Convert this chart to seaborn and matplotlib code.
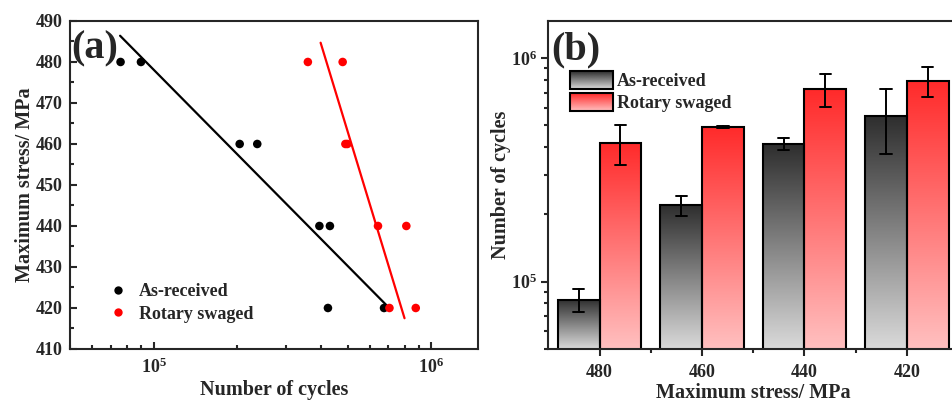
import numpy as np
import pandas as pd
import matplotlib
matplotlib.use("Agg")
import matplotlib.pyplot as plt
import seaborn as sns
from matplotlib.colors import LinearSegmentedColormap
from matplotlib.legend_handler import HandlerBase
from matplotlib.image import BboxImage
from matplotlib.transforms import Bbox, TransformedBbox
from matplotlib.patches import Rectangle, Patch
from matplotlib.lines import Line2D
from matplotlib.ticker import LogLocator, FuncFormatter, MultipleLocator, NullFormatter

# ---- fatigue data: two specimens per stress level ----
stress = [480, 480, 460, 460, 440, 440, 420, 420]
cycles_as_received = [7.6e4, 9.0e4, 2.04e5, 2.36e5, 3.95e5, 4.31e5, 4.24e5, 6.75e5]
cycles_swaged = [3.59e5, 4.79e5, 4.90e5, 4.98e5, 6.42e5, 8.12e5, 7.06e5, 8.78e5]

# ---- S-N fit lines (end points) ----
fit_as_received_N = [7.57e4, 6.93e5]
fit_as_received_S = [486.4, 420.5]
fit_swaged_N = [3.99e5, 8.0e5]
fit_swaged_S = [484.7, 417.5]

conditions = ["As-received", "Rotary swaged"]
stress_order = [480, 460, 440, 420]

df = pd.DataFrame({
    "stress": stress * 2,
    "cycles": cycles_as_received + cycles_swaged,
    "condition": [conditions[0]] * len(stress) + [conditions[1]] * len(stress),
})
fits = pd.DataFrame({
    "cycles": fit_as_received_N + fit_swaged_N,
    "stress": fit_as_received_S + fit_swaged_S,
    "condition": [conditions[0]] * 2 + [conditions[1]] * 2,
})

sns.set_style("ticks")
plt.rcParams["font.family"] = ["Liberation Serif", "DejaVu Serif"]
plt.rcParams["font.weight"] = "bold"
plt.rcParams["axes.labelweight"] = "bold"
plt.rcParams["mathtext.fontset"] = "custom"
plt.rcParams["mathtext.rm"] = "Liberation Serif:bold"
plt.rcParams["mathtext.it"] = "Liberation Serif:bold"
plt.rcParams["mathtext.bf"] = "Liberation Serif:bold"
plt.rcParams["mathtext.default"] = "rm"
plt.rcParams["axes.linewidth"] = 1.5

TICK_FS = 13
LABEL_FS = 14.5
LEGEND_FS = 13

point_colors = {conditions[0]: "#000000", conditions[1]: "#ff0000"}
grad_black = LinearSegmentedColormap.from_list("g_black", ["#2e2e2e", "#dadada"])
grad_red = LinearSegmentedColormap.from_list("g_red", ["#ff2a2a", "#ffc0c0"])
grad_maps = {conditions[0]: grad_black, conditions[1]: grad_red}

fig = plt.figure(figsize=(9.53, 4.01), dpi=100)
ax_a = fig.add_axes([0.0735, 0.1297, 0.428, 0.818])
ax_b = fig.add_axes([0.5754, 0.1297, 0.4300, 0.8185])

def pow10_label(v, pos):
    e = int(round(np.log10(v)))
    return f"$10^{{{e}}}$"

# ---------------- (a) S-N curves ----------------
sns.scatterplot(data=df, x="cycles", y="stress", hue="condition", palette=point_colors,
                s=38, edgecolor="none", ax=ax_a, legend=False, zorder=3)
sns.lineplot(data=fits, x="cycles", y="stress", hue="condition", palette=point_colors,
             linewidth=1.6, ax=ax_a, legend=False, estimator=None, sort=False)
ax_a.set_xscale("log")
ax_a.set_xlim(5.0e4, 1.47e6)
ax_a.set_ylim(410, 490)
ax_a.yaxis.set_major_locator(MultipleLocator(10))
ax_a.yaxis.set_minor_locator(MultipleLocator(5))
ax_a.xaxis.set_major_locator(LogLocator(base=10, numticks=10))
ax_a.xaxis.set_minor_locator(LogLocator(base=10, subs=np.arange(2, 10), numticks=10))
ax_a.xaxis.set_major_formatter(FuncFormatter(pow10_label))
ax_a.xaxis.set_minor_formatter(NullFormatter())
ax_a.tick_params(which="both", direction="in", width=1.5, labelsize=TICK_FS)
ax_a.tick_params(which="major", length=5)
ax_a.tick_params(which="minor", length=3)
ax_a.tick_params(axis="y", pad=5)
ax_a.tick_params(axis="x", pad=6)
ax_a.set_xlabel("Number of cycles", fontsize=LABEL_FS, labelpad=2)
ax_a.set_ylabel("Maximum stress/ MPa", fontsize=LABEL_FS, labelpad=1)
for sp in ax_a.spines.values():
    sp.set_visible(True)
    sp.set_linewidth(1.5)
ax_a.text(0.002, 0.915, "(a)", transform=ax_a.transAxes, fontsize=29, fontweight="bold",
          ha="left", va="center")

handles_a = [Line2D([], [], linestyle="none", marker="o", markersize=6,
                    markerfacecolor=point_colors[c], markeredgecolor="none") for c in conditions]
ax_a.legend(handles_a, conditions, loc="lower left", bbox_to_anchor=(0.085, 0.08),
            frameon=False, fontsize=LEGEND_FS, handletextpad=0.4, labelspacing=0.3,
            borderpad=0, borderaxespad=0, handlelength=1.5)

# ---------------- (b) fatigue life bars ----------------
sns.barplot(data=df, x="stress", y="cycles", hue="condition", order=stress_order,
            hue_order=conditions, palette=point_colors, errorbar="sd", capsize=0.22,
            err_kws={"color": "black", "linewidth": 1.4}, edgecolor="black",
            linewidth=1.5, gap=0, width=0.815, ax=ax_b, legend=False)
ax_b.set_yscale("log")
xlim_b = (-0.5, 3.5)
ylim_b = (5.0e4, 1.47e6)
ax_b.set_xlim(*xlim_b)
ax_b.set_ylim(*ylim_b)
ax_b.set_autoscale_on(False)

# vertical gradient fill inside every bar
data_to_axes = ax_b.transData + ax_b.transAxes.inverted()
grad = np.linspace(0, 1, 256).reshape(-1, 1)
for cond, container in zip(conditions, ax_b.containers):
    for bar in container:
        x0 = bar.get_x()
        x1 = x0 + bar.get_width()
        h = bar.get_height()
        (ax0, ay1) = data_to_axes.transform((x0, h))
        (ax1, _) = data_to_axes.transform((x1, h))
        ax_b.imshow(grad, extent=(ax0, ax1, 0, ay1), transform=ax_b.transAxes,
                    cmap=grad_maps[cond], aspect="auto", origin="upper",
                    interpolation="bicubic", zorder=bar.get_zorder() - 0.05)
        bar.set_facecolor("none")
ax_b.set_xlim(*xlim_b)
ax_b.set_ylim(*ylim_b)

ax_b.yaxis.set_major_locator(LogLocator(base=10, numticks=10))
ax_b.yaxis.set_minor_locator(LogLocator(base=10, subs=np.arange(2, 10), numticks=10))
ax_b.yaxis.set_major_formatter(FuncFormatter(pow10_label))
ax_b.yaxis.set_minor_formatter(NullFormatter())
ax_b.set_xticks(range(len(stress_order)))
ax_b.set_xticklabels([str(s) for s in stress_order])
ax_b.set_xticks([0.5, 1.5, 2.5], minor=True)
ax_b.tick_params(which="both", direction="out", width=1.5, labelsize=TICK_FS)
ax_b.tick_params(which="major", length=5)
ax_b.tick_params(which="minor", length=3)
ax_b.tick_params(axis="x", pad=6)
ax_b.tick_params(axis="y", pad=3)
ax_b.set_xlabel("Maximum stress/ MPa", fontsize=LABEL_FS, labelpad=1)
ax_b.set_ylabel("Number of cycles", fontsize=LABEL_FS, labelpad=0)
for sp in ax_b.spines.values():
    sp.set_visible(True)
    sp.set_linewidth(1.5)
ax_b.text(0.006, 0.91, "(b)", transform=ax_b.transAxes, fontsize=29, fontweight="bold",
          ha="left", va="center")


class GradientHandler(HandlerBase):
    def __init__(self, cmap):
        super().__init__()
        self.cmap = cmap

    def create_artists(self, legend, orig_handle, xdescent, ydescent, width, height,
                       fontsize, trans):
        box = Bbox.from_bounds(-xdescent, -ydescent, width, height)
        img = BboxImage(TransformedBbox(box, trans), cmap=self.cmap,
                        interpolation="bicubic", origin="upper")
        img.set_data(np.linspace(0, 1, 64).reshape(-1, 1))
        rect = Rectangle((-xdescent, -ydescent), width, height, facecolor="none",
                         edgecolor="black", linewidth=1.5, transform=trans)
        return [img, rect]


handles_b = [Patch(label=c) for c in conditions]
ax_b.legend(handles_b, conditions, loc="upper left", bbox_to_anchor=(0.053, 0.848),
            frameon=False, fontsize=LEGEND_FS, handlelength=2.35, handleheight=1.15,
            handletextpad=0.25, labelspacing=0.2, borderpad=0, borderaxespad=0,
            handler_map={h: GradientHandler(grad_maps[c]) for h, c in zip(handles_b, conditions)})

fig.savefig("out.png", dpi=100)
